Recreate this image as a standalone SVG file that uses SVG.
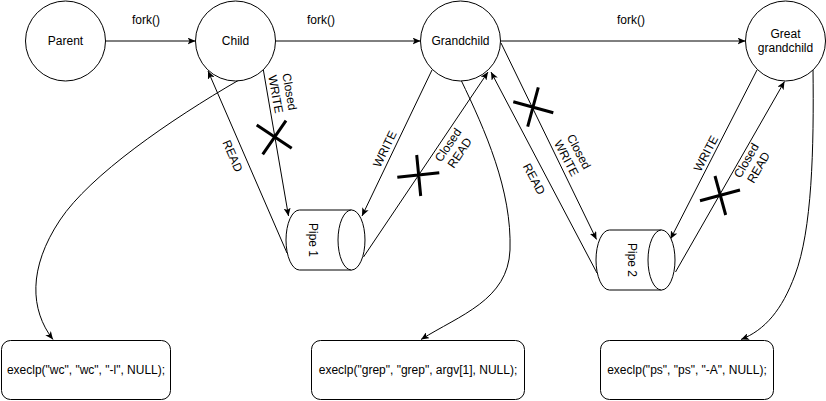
<svg xmlns="http://www.w3.org/2000/svg" width="826" height="401" viewBox="0 0 826 401">
  <style>
    .node { fill: #ffffff; stroke: #000000; stroke-width: 1; }
    .edge { fill: none; stroke: #000000; stroke-width: 1; marker-end: url(#arrow); }
    .cross { stroke: #000000; stroke-width: 3; fill: none; }
    text { font-family: "Liberation Sans", Arial, Helvetica, sans-serif; font-size: 12px; fill: #000000; text-anchor: middle; }
  </style>
  <defs>
    <marker id="arrow" viewBox="0 0 8 7" refX="8" refY="3.5" markerWidth="8" markerHeight="7" markerUnits="userSpaceOnUse" orient="auto">
      <path d="M0,0 L8,3.5 L0,7 L2,3.5 Z" fill="#000000"/>
    </marker>
  </defs>

  <rect width="826" height="401" fill="#ffffff"/>

  <!-- connectors -->
  <g id="connectors">
    <!-- fork() chain -->
    <path class="edge" d="M105.5,41 L195.5,41"/>
    <path class="edge" d="M275.5,41 L420.5,41"/>
    <path class="edge" d="M500.5,41 L745.5,41"/>
    <text x="146" y="24">fork()</text>
    <text x="321" y="24">fork()</text>
    <text x="631" y="24">fork()</text>

    <!-- pipe 1 -->
    <path class="edge" d="M263,68 L288.5,216"/>
    <path class="edge" d="M287,253 L208,71"/>
    <path class="edge" d="M432,70 L362,216"/>
    <path class="edge" d="M363.5,257 L488,72"/>

    <!-- pipe 2 -->
    <path class="edge" d="M501,43 L596.5,239.5"/>
    <path class="edge" d="M597,273 L491,72"/>
    <path class="edge" d="M757,70 L670.5,239"/>
    <path class="edge" d="M675.5,272 L784.5,81.5"/>

    <!-- exec calls -->
    <path class="edge" d="M239,80 C170,120 90,175 60,220 C28,268 30,310 53,339.5"/>
    <path class="edge" d="M461,80 C485,130 512,190 510,250 C508,300 460,315 421,339.5"/>
    <path class="edge" d="M813,68 C814,150 812,230 795,275 C782,310 765,330 741,339.5"/>

    <!-- edge labels -->
    <text transform="translate(282.5,93) rotate(80)"><tspan x="0" y="-3">Closed</tspan><tspan x="0" y="11">WRITE</tspan></text>
    <text transform="translate(232.5,156) rotate(66.6)" y="4">READ</text>
    <text transform="translate(385,149) rotate(-64)" y="4">WRITE</text>
    <text transform="translate(454,149) rotate(-56)"><tspan x="0" y="-3">Closed</tspan><tspan x="0" y="11">READ</tspan></text>
    <text transform="translate(572.5,155) rotate(62)"><tspan x="0" y="-3">Closed</tspan><tspan x="0" y="11">WRITE</tspan></text>
    <text transform="translate(534,179) rotate(61.5)" y="4">READ</text>
    <text transform="translate(706,153.5) rotate(-62)" y="4">WRITE</text>
    <text transform="translate(752.5,164) rotate(-60)"><tspan x="0" y="-3">Closed</tspan><tspan x="0" y="11">READ</tspan></text>
  </g>

  <!-- processes -->
  <g id="parent">
    <circle class="node" cx="65.5" cy="41" r="40"/>
    <text x="65.5" y="45">Parent</text>
  </g>
  <g id="child">
    <circle class="node" cx="235.5" cy="41" r="40"/>
    <text x="235.5" y="45">Child</text>
  </g>
  <g id="grandchild">
    <circle class="node" cx="460.5" cy="41" r="40"/>
    <text x="460.5" y="45">Grandchild</text>
  </g>
  <g id="great-grandchild">
    <circle class="node" cx="785.5" cy="41" r="40"/>
    <text x="785.5" y="38">Great</text>
    <text x="785.5" y="52">grandchild</text>
  </g>

  <!-- pipes (horizontal cylinders) -->
  <g id="pipe1">
    <path class="node" d="M299.5,210 L351.5,210 A13.5,30 0 0 1 351.5,270 L299.5,270 A13.5,30 0 0 1 299.5,210 Z"/>
    <path class="node" fill="none" d="M351.5,210 A13.5,30 0 0 0 351.5,270"/>
    <text transform="translate(312.5,240) rotate(90)" y="4">Pipe 1</text>
  </g>
  <g id="pipe2">
    <path class="node" d="M609.5,230 L661.5,230 A13.5,30 0 0 1 661.5,290 L609.5,290 A13.5,30 0 0 1 609.5,230 Z"/>
    <path class="node" fill="none" d="M661.5,230 A13.5,30 0 0 0 661.5,290"/>
    <text transform="translate(632,260) rotate(90)" y="4">Pipe 2</text>
  </g>

  <!-- exec calls -->
  <g id="exec-wc">
    <rect class="node" x="1.5" y="340.5" width="169" height="59" rx="9" ry="9"/>
    <text x="86" y="374">execlp("wc", "wc", "-l", NULL);</text>
  </g>
  <g id="exec-grep">
    <rect class="node" x="311.5" y="340.5" width="213" height="59" rx="9" ry="9"/>
    <text x="418" y="374">execlp("grep", "grep", argv[1], NULL);</text>
  </g>
  <g id="exec-ps">
    <rect class="node" x="600.5" y="340.5" width="173" height="59" rx="9" ry="9"/>
    <text x="687" y="374">execlp("ps", "ps", "-A", NULL);</text>
  </g>

  <!-- closed pipe ends -->
  <g id="closed-marks">
    <path class="cross" d="M256.7,125 L291.7,148.3 M286,120.7 L262.7,154.3"/>
    <path class="cross" d="M397.3,177.3 L439.3,172.7 M416.7,155 L420.7,196"/>
    <path class="cross" d="M513.3,101.7 L553.3,112.7 M538.3,87.3 L527.7,126.7"/>
    <path class="cross" d="M700,200.7 L740,190 M715,176 L725.7,215"/>
  </g>
</svg>
